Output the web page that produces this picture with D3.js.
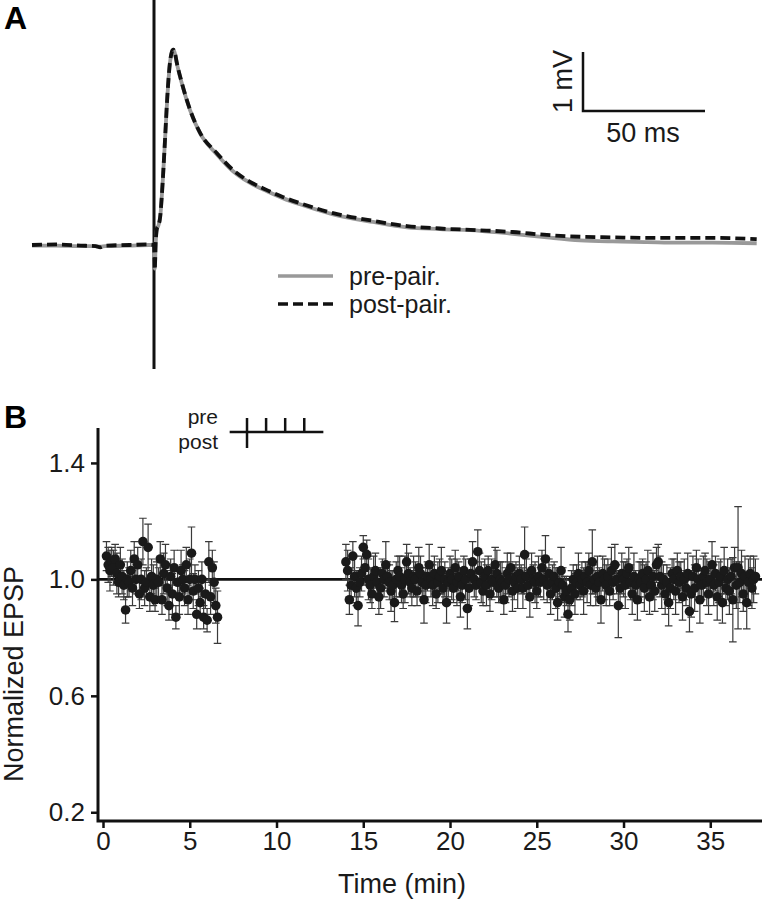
<!DOCTYPE html>
<html>
<head>
<meta charset="utf-8">
<script src="https://cdn.jsdelivr.net/npm/d3@7/dist/d3.min.js"></script>
<style>
  html, body { margin: 0; padding: 0; background: #fff; }
  svg text { font-family: "Liberation Sans", Arial, sans-serif; fill: #1a1a1a; }
</style>
</head>
<body>
<div id="chart"></div>
<script>
'use strict';

// panel A: averaged EPSP traces (ms after stimulus, mV above baseline)
let traceTime = [-50, -40, -30, -24, -22, -20, -10, -2, 0, 0.3, 0.7, 1.2, 1.8, 2.5, 3.6, 4.5, 5.45, 6.5, 7.3, 7.9, 8.6, 9.3,
  11.4, 14.8, 18.9, 25.7, 32.4, 39, 46.3, 53, 59.8, 73.4, 89.8, 103.7, 117.2, 133.6, 147, 161, 174.6, 188, 202, 215, 229, 247];
let postPair = [0, 0.01, -0.01, -0.02, -0.04, -0.01, 0, 0.01, 0, -0.42, 0.05, 0.28, 0.33, 0.47, 1.10, 1.78, 2.51, 3.08, 3.27, 3.31, 3.25, 3.10,
  2.75, 2.29, 1.90, 1.56, 1.27, 1.08, 0.93, 0.81, 0.71, 0.54, 0.41, 0.32, 0.28, 0.25, 0.22, 0.17, 0.14, 0.13, 0.12, 0.12, 0.12, 0.10];
let prePair = [-0.01, -0.01, -0.02, -0.02, -0.03, -0.02, -0.01, 0, 0, -0.40, 0.04, 0.27, 0.33, 0.46, 1.09, 1.77, 2.50, 3.07, 3.27, 3.31, 3.24, 3.09,
  2.74, 2.28, 1.89, 1.54, 1.25, 1.06, 0.91, 0.79, 0.69, 0.52, 0.39, 0.30, 0.27, 0.24, 0.19, 0.13, 0.08, 0.06, 0.05, 0.04, 0.04, 0.03];

let legendLabels = ['pre-pair.', 'post-pair.'];

// panel B: normalized EPSP, one sweep every 0.1 min
let sweepInterval = 0.1;
let preStart = 0.2;
let preValues = [1.08, 1.05, 1.03, 1.06, 1.04, 1.07, 1.02, 0.99, 1.05, 1.01,
  0.98, 0.895, 1.00, 0.99, 1.03, 0.97, 1.07, 1.00, 1.05, 0.95,
  1.00, 1.13, 0.97, 0.99, 1.11, 0.94, 1.01, 0.98, 0.93, 1.00,
  0.99, 1.07, 0.93, 1.02, 1.05, 0.97, 0.91, 1.01, 0.95, 1.04,
  0.87, 0.99, 0.94, 1.03, 1.00, 0.97, 1.05, 0.93, 1.00, 1.09,
  0.96, 1.00, 0.88, 0.97, 0.92, 1.00, 0.87, 0.95, 0.86, 1.06,
  0.94, 1.04, 0.99, 0.91, 0.87];
let preErrors = [0.05, 0.06, 0.07, 0.05, 0.06, 0.05, 0.07, 0.05, 0.06, 0.06,
  0.05, 0.045, 0.06, 0.05, 0.07, 0.06, 0.06, 0.05, 0.06, 0.05,
  0.07, 0.08, 0.06, 0.05, 0.08, 0.05, 0.06, 0.07, 0.04, 0.06,
  0.05, 0.06, 0.05, 0.07, 0.07, 0.06, 0.05, 0.06, 0.07, 0.06,
  0.04, 0.05, 0.06, 0.07, 0.05, 0.06, 0.06, 0.05, 0.07, 0.09,
  0.06, 0.05, 0.05, 0.06, 0.05, 0.06, 0.04, 0.05, 0.04, 0.07,
  0.06, 0.06, 0.07, 0.06, 0.09];

let postStart = 14.0;
let postValues = [1.06, 1.03, 0.93, 0.98, 1.08, 1.01, 0.97, 0.91, 0.99, 1.02,
  1.11, 1.04, 1.085, 1.00, 0.98, 0.95, 1.01, 1.03, 0.99, 0.94,
  0.97, 1.02, 1.00, 1.05, 1.01, 0.99, 0.96, 0.98, 0.92, 1.00,
  1.03, 1.01, 0.98, 0.95, 1.00, 1.06, 1.02, 0.99, 0.97, 1.01,
  1.00, 0.96, 1.04, 1.02, 0.99, 0.93, 0.98, 1.01, 1.05, 1.00,
  0.98, 1.02, 0.95, 0.99, 1.01, 1.03, 0.97, 1.00, 0.92, 0.99,
  1.02, 1.00, 0.97, 1.04, 0.99, 1.01, 0.94, 0.98, 1.03, 1.00,
  0.90, 0.97, 1.02, 1.06, 1.00, 0.98, 1.095, 1.03, 0.99, 0.96,
  1.01, 0.98, 1.03, 0.95, 1.00, 0.99, 1.05, 1.02, 0.97, 1.00,
  0.99, 0.93, 0.98, 1.02, 1.00, 1.04, 0.96, 0.99, 1.01, 0.97,
  1.02, 1.00, 0.97, 1.085, 1.01, 0.98, 0.94, 1.03, 1.00, 0.99,
  0.96, 1.01, 0.99, 1.04, 1.00, 1.07, 0.98, 1.02, 0.95, 0.99,
  1.01, 0.97, 0.92, 0.99, 1.03, 0.98, 0.94, 0.96, 0.88, 0.93,
  0.97, 1.00, 0.95, 0.99, 1.02, 0.98, 1.00, 0.96, 1.01, 0.99,
  1.03, 0.98, 1.06, 1.00, 0.97, 1.01, 0.99, 0.93, 1.02, 1.00,
  0.98, 1.01, 0.96, 1.03, 0.99, 1.05, 1.00, 0.91, 0.97, 1.02,
  1.00, 0.98, 1.02, 1.04, 0.99, 0.95, 1.01, 0.98, 0.93, 1.00,
  0.99, 1.02, 0.97, 1.00, 1.03, 0.94, 0.98, 1.01, 0.96, 1.05,
  1.06, 1.01, 0.98, 1.00, 0.95, 0.99, 0.92, 0.97, 1.02, 1.00,
  0.96, 1.03, 0.99, 1.01, 0.94, 1.00, 0.97, 1.02, 0.89, 0.95,
  1.01, 0.97, 1.04, 1.00, 0.93, 0.98, 1.01, 1.03, 0.99, 0.95,
  1.00, 1.05, 0.98, 1.02, 0.94, 0.99, 1.01, 0.92, 1.03, 0.97,
  1.00, 0.96, 1.01, 0.93, 1.04, 0.98, 1.04, 0.99, 1.02, 0.95,
  1.01, 0.92, 0.99, 1.02, 0.97, 1.00, 1.01];
let postErrors = [0.06, 0.07, 0.05, 0.06, 0.05, 0.07, 0.06, 0.07, 0.05, 0.06,
  0.04, 0.06, 0.05, 0.07, 0.06, 0.05, 0.07, 0.06, 0.05, 0.06,
  0.07, 0.05, 0.06, 0.08, 0.05, 0.06, 0.07, 0.05, 0.065, 0.06,
  0.05, 0.07, 0.06, 0.05, 0.08, 0.06, 0.07, 0.05, 0.06, 0.07,
  0.06, 0.05, 0.07, 0.06, 0.05, 0.08, 0.06, 0.05, 0.07, 0.06,
  0.07, 0.06, 0.05, 0.07, 0.06, 0.08, 0.05, 0.06, 0.07, 0.05,
  0.06, 0.07, 0.05, 0.06, 0.08, 0.05, 0.07, 0.06, 0.05, 0.07,
  0.07, 0.06, 0.05, 0.07, 0.06, 0.05, 0.075, 0.06, 0.07, 0.05,
  0.06, 0.07, 0.05, 0.06, 0.07, 0.05, 0.06, 0.08, 0.05, 0.06,
  0.07, 0.05, 0.06, 0.07, 0.06, 0.05, 0.07, 0.06, 0.05, 0.07,
  0.06, 0.05, 0.07, 0.095, 0.06, 0.05, 0.07, 0.06, 0.05, 0.07,
  0.06, 0.07, 0.05, 0.06, 0.07, 0.08, 0.06, 0.05, 0.07, 0.06,
  0.05, 0.07, 0.06, 0.05, 0.08, 0.06, 0.07, 0.05, 0.06, 0.07,
  0.06, 0.05, 0.07, 0.06, 0.07, 0.05, 0.06, 0.08, 0.05, 0.07,
  0.06, 0.07, 0.11, 0.05, 0.06, 0.07, 0.05, 0.08, 0.06, 0.07,
  0.07, 0.06, 0.05, 0.08, 0.06, 0.07, 0.05, 0.11, 0.06, 0.07,
  0.06, 0.08, 0.05, 0.07, 0.06, 0.07, 0.08, 0.05, 0.07, 0.06,
  0.07, 0.05, 0.08, 0.06, 0.07, 0.06, 0.05, 0.08, 0.07, 0.06,
  0.06, 0.07, 0.08, 0.05, 0.07, 0.06, 0.08, 0.07, 0.05, 0.07,
  0.08, 0.06, 0.07, 0.05, 0.08, 0.07, 0.06, 0.07, 0.07, 0.08,
  0.07, 0.08, 0.06, 0.07, 0.08, 0.05, 0.07, 0.06, 0.08, 0.07,
  0.06, 0.08, 0.07, 0.06, 0.08, 0.07, 0.06, 0.07, 0.08, 0.06,
  0.07, 0.08, 0.06, 0.145, 0.07, 0.08, 0.21, 0.07, 0.08, 0.06,
  0.07, 0.09, 0.08, 0.06, 0.07, 0.08, 0.06];

let yTicks = [0.2, 0.6, 1.0, 1.4];
let xTicks = [0, 5, 10, 15, 20, 25, 30, 35];

// pairing protocol symbol (min): one post spike, four pre spikes
let pairingSpan = [7.3, 12.7];
let prePulses = [8.3, 9.4, 10.5, 11.6];
let postPulses = [8.3];

let W = 762, H = 899;

let svg = d3.select('#chart').append('svg')
  .attr('width', W)
  .attr('height', H);

svg.append('rect').attr('width', W).attr('height', H).attr('fill', '#fff');

function panelLabel(text, x, y){
  svg.append('text')
    .attr('x', x).attr('y', y)
    .style('font-size', '32px')
    .style('font-weight', 'bold')
    .style('fill', '#000')
    .text(text);
}

function drawTraces(){
  let x = d3.scaleLinear().domain([-50, 247]).range([32, 756.7]);
  let y = d3.scaleLinear().domain([-0.5, 3.5]).range([274.5, 38.5]);

  // stimulus marker
  svg.append('line')
    .attr('x1', x(0)).attr('x2', x(0))
    .attr('y1', 0).attr('y2', 369)
    .attr('stroke', '#111').attr('stroke-width', 3);

  let line = d3.line()
    .x(function(d){ return x(d[0]); })
    .y(function(d){ return y(d[1]); })
    .curve(d3.curveMonotoneX);

  svg.append('path')
    .datum(d3.zip(traceTime, prePair))
    .attr('d', line)
    .attr('fill', 'none')
    .attr('stroke', '#999')
    .attr('stroke-width', 3.8);

  svg.append('path')
    .datum(d3.zip(traceTime, postPair))
    .attr('d', line)
    .attr('fill', 'none')
    .attr('stroke', '#111')
    .attr('stroke-width', 3.8)
    .attr('stroke-dasharray', '10,5');

  // scale bar 50 ms / 1 mV
  let sbX = 583, sbY = 111;
  let sbW = x(50) - x(0), sbH = y(0) - y(1);
  svg.append('path')
    .attr('d', 'M' + sbX + ',' + (sbY - sbH) + 'V' + sbY + 'H' + (sbX + sbW))
    .attr('fill', 'none')
    .attr('stroke', '#111')
    .attr('stroke-width', 2.5);
  svg.append('text')
    .attr('transform', 'translate(' + (sbX - 11) + ',' + (sbY - sbH / 2) + ') rotate(-90)')
    .attr('text-anchor', 'middle')
    .style('font-size', '27px')
    .text('1 mV');
  svg.append('text')
    .attr('x', sbX + sbW / 2 - 1).attr('y', sbY + 31)
    .attr('text-anchor', 'middle')
    .style('font-size', '27px')
    .text('50 ms');

  // legend
  let legend = svg.append('g').attr('transform', 'translate(278,276)');
  legendLabels.forEach(function(label, i){
    let g = legend.append('g').attr('transform', 'translate(0,' + (i * 28) + ')');
    g.append('line')
      .attr('x1', 0).attr('x2', 55)
      .attr('stroke', i === 0 ? '#999' : '#111')
      .attr('stroke-width', 3.5)
      .attr('stroke-dasharray', i === 0 ? null : '10,5');
    g.append('text')
      .attr('x', 71).attr('y', 9)
      .style('font-size', '25px')
      .text(label);
  });
}

function drawTimeCourse(){
  let axisX = 98, axisY = 821, right = 762, top = 428;
  let x = d3.scaleLinear().domain([0, 37.9]).range([103, 760.6]);
  let y = d3.scaleLinear().domain([0.17, 1.52]).range([axisY, top]);

  let pts = [];
  preValues.forEach(function(v, i){
    pts.push({t: preStart + i * sweepInterval, v: v, e: preErrors[i]});
  });
  postValues.forEach(function(v, i){
    pts.push({t: postStart + i * sweepInterval, v: v, e: postErrors[i]});
  });

  // baseline reference
  svg.append('line')
    .attr('x1', axisX).attr('x2', right)
    .attr('y1', y(1)).attr('y2', y(1))
    .attr('stroke', '#111').attr('stroke-width', 2.8);

  let bars = svg.append('g')
    .attr('stroke', '#3a3a3a')
    .attr('stroke-width', 1.2)
    .attr('fill', 'none');
  bars.selectAll('path')
    .data(pts)
    .enter().append('path')
    .attr('d', function(d){
      let cx = x(d.t), y0 = y(d.v + d.e), y1 = y(d.v - d.e), c = 3.8;
      return 'M' + cx + ',' + y0 + 'V' + y1 +
        'M' + (cx - c) + ',' + y0 + 'H' + (cx + c) +
        'M' + (cx - c) + ',' + y1 + 'H' + (cx + c);
    });

  svg.append('g').selectAll('circle')
    .data(pts)
    .enter().append('circle')
    .attr('cx', function(d){ return x(d.t); })
    .attr('cy', function(d){ return y(d.v); })
    .attr('r', 4.8)
    .attr('fill', '#1a1a1a');

  // spines
  svg.append('path')
    .attr('d', 'M' + axisX + ',' + top + 'V' + axisY + 'H' + right)
    .attr('fill', 'none')
    .attr('stroke', '#111')
    .attr('stroke-width', 3);

  let yAxis = svg.append('g')
    .attr('transform', 'translate(' + axisX + ',0)')
    .call(d3.axisLeft(y).tickValues(yTicks).tickFormat(d3.format('.1f')).tickSize(7).tickPadding(6));
  let xAxis = svg.append('g')
    .attr('transform', 'translate(0,' + axisY + ')')
    .call(d3.axisBottom(x).tickValues(xTicks).tickSize(7).tickPadding(4));

  [yAxis, xAxis].forEach(function(ax){
    ax.select('.domain').remove();
    ax.selectAll('.tick line').attr('stroke', '#111').attr('stroke-width', 2.5);
    ax.selectAll('.tick text')
      .style('font-family', '"Liberation Sans", Arial, sans-serif')
      .style('font-size', '26px')
      .style('fill', '#1a1a1a');
  });

  svg.append('text')
    .attr('x', 402).attr('y', 893)
    .attr('text-anchor', 'middle')
    .style('font-size', '27px')
    .text('Time (min)');
  svg.append('text')
    .attr('transform', 'translate(23,674) rotate(-90)')
    .attr('text-anchor', 'middle')
    .style('font-size', '27px')
    .text('Normalized EPSP');

  // pairing symbol
  let symY = 432;
  svg.append('line')
    .attr('x1', x(pairingSpan[0])).attr('x2', x(pairingSpan[1]))
    .attr('y1', symY).attr('y2', symY)
    .attr('stroke', '#111').attr('stroke-width', 2.5);
  svg.append('g').selectAll('line')
    .data(prePulses)
    .enter().append('line')
    .attr('x1', function(d){ return x(d); })
    .attr('x2', function(d){ return x(d); })
    .attr('y1', symY - 14).attr('y2', symY)
    .attr('stroke', '#111').attr('stroke-width', 2.5);
  svg.append('g').selectAll('line')
    .data(postPulses)
    .enter().append('line')
    .attr('x1', function(d){ return x(d); })
    .attr('x2', function(d){ return x(d); })
    .attr('y1', symY).attr('y2', symY + 16)
    .attr('stroke', '#111').attr('stroke-width', 2.5);
  svg.append('text')
    .attr('x', 218).attr('y', 424)
    .attr('text-anchor', 'end')
    .style('font-size', '21px')
    .text('pre');
  svg.append('text')
    .attr('x', 218).attr('y', 449)
    .attr('text-anchor', 'end')
    .style('font-size', '21px')
    .text('post');
}

panelLabel('A', 4, 29);
drawTraces();
panelLabel('B', 4, 428);
drawTimeCourse();
</script>
</body>
</html>
